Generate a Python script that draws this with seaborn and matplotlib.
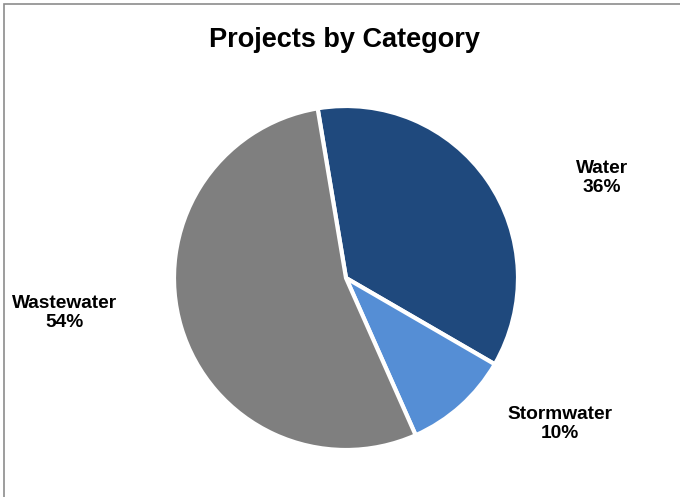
import matplotlib
matplotlib.use("Agg")
import matplotlib.pyplot as plt
import seaborn as sns
from matplotlib.patches import Rectangle

# data
categories = ["Water", "Stormwater", "Wastewater"]
shares = [36, 10, 54]
colors = ["#1F497D", "#558ED5", "#7F7F7F"]

sns.set_theme(style="white")
plt.rcParams['font.family'] = ['Liberation Sans', 'DejaVu Sans']

fig = plt.figure(figsize=(6.8, 4.97), dpi=100)
W, H = 680, 497
cx, cy, r = 346, 278, 172
ax = fig.add_axes([(cx - r) / W, (H - cy - r) / H, 2 * r / W, 2 * r / H])

wedges, texts = ax.pie(shares, colors=colors, startangle=99.5, counterclock=False,
                       radius=1.0, labels=[f"{c}\n{s}%" for c, s in zip(categories, shares)],
                       wedgeprops=dict(edgecolor="white", linewidth=3),
                       textprops=dict(fontsize=13.8, fontweight="bold", color="black",
                                      ha="center", va="center", linespacing=1.12))
ax.set_xlim(-1, 1)
ax.set_ylim(-1, 1)
ax.axis("off")

# label spots, in radius units
label_pos = [(1.488, 0.581), (1.244, -0.849), (-1.634, -0.203)]
for t, p in zip(texts, label_pos):
    t.set_position(p)
    t.set_ha("center")
    t.set_va("center")

fig.text(344.5 / W, 1 - 47 / H, "Projects by Category", ha="center", va="baseline",
         fontsize=19.5, fontweight="bold", color="black")

# chart border (top and left visible)
fig.patches.append(Rectangle((4 / W, -0.05), 1.1, 1 - 4 / H + 0.05, transform=fig.transFigure,
                             fill=False, edgecolor="#8C8C8C", linewidth=1.2))

fig.savefig("out.png", dpi=100)
